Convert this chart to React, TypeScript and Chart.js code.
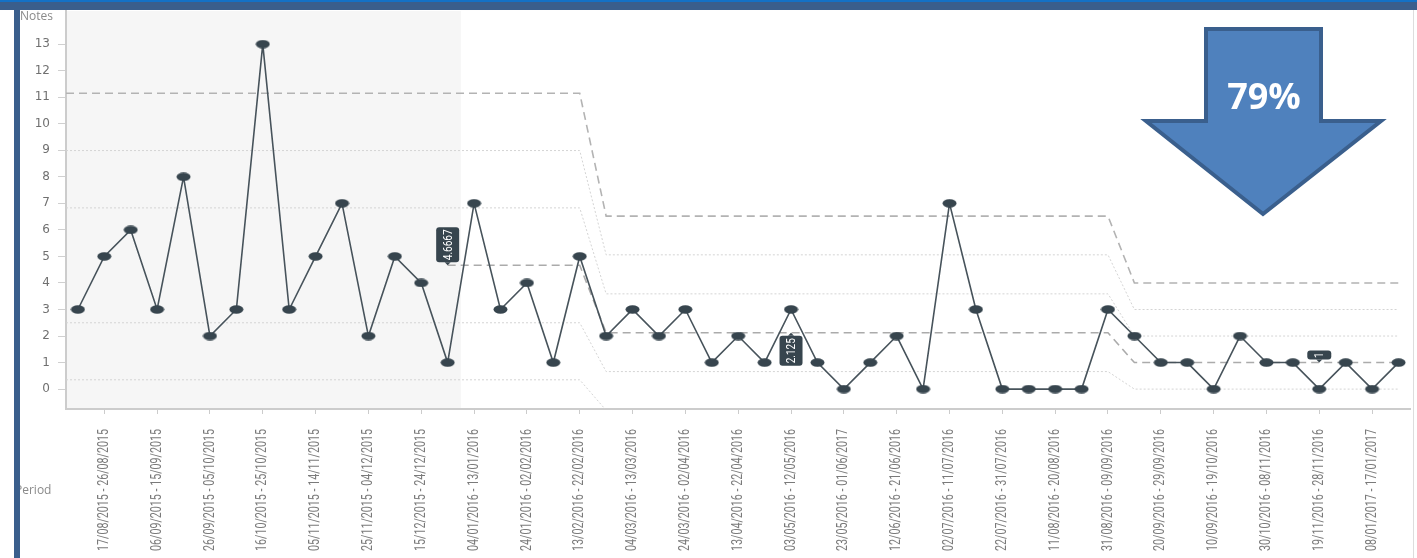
import React, { useEffect, useRef } from "react";
import { Chart, registerables } from "chart.js";

Chart.register(...registerables);

// ---------- data ----------
const tickLabels = [
  "17/08/2015 - 26/08/2015",
  "06/09/2015 - 15/09/2015",
  "26/09/2015 - 05/10/2015",
  "16/10/2015 - 25/10/2015",
  "05/11/2015 - 14/11/2015",
  "25/11/2015 - 04/12/2015",
  "15/12/2015 - 24/12/2015",
  "04/01/2016 - 13/01/2016",
  "24/01/2016 - 02/02/2016",
  "13/02/2016 - 22/02/2016",
  "04/03/2016 - 13/03/2016",
  "24/03/2016 - 02/04/2016",
  "13/04/2016 - 22/04/2016",
  "03/05/2016 - 12/05/2016",
  "23/05/2016 - 01/06/2017",
  "12/06/2016 - 21/06/2016",
  "02/07/2016 - 11/07/2016",
  "22/07/2016 - 31/07/2016",
  "11/08/2016 - 20/08/2016",
  "31/08/2016 - 09/09/2016",
  "20/09/2016 - 29/09/2016",
  "10/09/2016 - 19/10/2016",
  "30/10/2016 - 08/11/2016",
  "19/11/2016 - 28/11/2016",
  "08/01/2017 - 17/01/2017",
];

const notes = [
  3, 5, 6, 3, 8, 2, 3, 13, 3, 5, 7, 2, 5, 4, 1, 7, 3, 4, 1, 5,
  2, 3, 2, 3, 1, 2, 1, 3, 1, 0, 1, 2, 0, 7, 3, 0, 0, 0, 0, 3,
  2, 1, 1, 0, 2, 1, 1, 0, 1, 0, 1,
];

// phases of the control chart
const X_MIN = -0.45;
const X_MAX = 50.45;
const phaseStart = [X_MIN, 20, 40];
const phaseEnd = [19, 39, 50];
const meanStart = [14, 20, 40];
const phaseMean = [4.6667, 2.125, 1];
const phaseUCL = [11.15, 6.52, 4.0];
const phasePlus2 = [8.99, 5.06, 3.0];
const phasePlus1 = [6.83, 3.59, 2.0];
const phaseMinus1 = [2.5, 0.66, 0.0];
const phaseMinus2 = [0.35, -0.8, -1.0];
const baselineEnd = 14.5;

const callouts = [
  { x: 14, phase: 0, text: "4.6667", above: true, w: 23, h: 35 },
  { x: 27, phase: 1, text: "2.125", above: false, w: 23, h: 30 },
  { x: 47, phase: 2, text: "1", above: true, w: 24, h: 9 },
];

const arrowText = "79%";

// ---------- helpers ----------
function limitLine(values: number[], starts: number[]) {
  const pts: { x: number; y: number }[] = [];
  values.forEach((v, k) => {
    pts.push({ x: starts[k], y: v });
    pts.push({ x: phaseEnd[k], y: v });
  });
  return pts;
}

function makeDot() {
  const c = document.createElement("canvas");
  c.width = 15;
  c.height = 9;
  const g = c.getContext("2d")!;
  g.fillStyle = "#37454e";
  g.beginPath();
  g.ellipse(7.5, 4.5, 7, 4.2, 0, 0, Math.PI * 2);
  g.fill();
  return c;
}

const FONT = "'Open Sans', 'DejaVu Sans', sans-serif";
const STRETCH = 1.35;

const decorPlugin = {
  id: "decor",
  beforeDraw(chart: any) {
    const { ctx, chartArea, scales } = chart;
    ctx.save();
    ctx.fillStyle = "#ffffff";
    ctx.fillRect(0, 0, chart.width, chart.height);
    const xs = scales.x.getPixelForValue(baselineEnd);
    ctx.fillStyle = "#f6f6f6";
    ctx.fillRect(chartArea.left, chartArea.top, xs - chartArea.left, chartArea.bottom - chartArea.top);
    ctx.restore();
  },
  afterDraw(chart: any) {
    const { ctx, scales, chartArea } = chart;
    const W = chart.width;
    const H = chart.height;
    ctx.save();

    // x tick labels (rotated, glyphs widened like the reference)
    ctx.fillStyle = "#7a7a7a";
    ctx.font = `10.7px Roboto, ${FONT}`;
    ctx.textAlign = "right";
    ctx.textBaseline = "middle";
    scales.x.ticks.forEach((t: any) => {
      const label = tickLabels[(t.value - 1) / 2];
      if (!label) return;
      const px = scales.x.getPixelForValue(t.value);
      ctx.save();
      ctx.translate(px, chartArea.bottom + 20);
      ctx.rotate(-Math.PI / 2);
      ctx.scale(1, STRETCH);
      ctx.fillText(label, 0, 0);
      ctx.restore();
    });

    // axis titles
    ctx.fillStyle = "#8a8a8a";
    ctx.font = `12px ${FONT}`;
    ctx.textAlign = "left";
    ctx.textBaseline = "middle";
    ctx.fillText("Notes", 20, 17);
    ctx.fillText("Period", 15, 491);

    // callouts
    callouts.forEach((c) => {
      const cx = scales.x.getPixelForValue(c.x);
      const ly = scales.y.getPixelForValue(phaseMean[c.phase]);
      const gap = 3;
      const top = c.above ? ly - gap - c.h : ly + gap;
      const left = cx - c.w / 2;
      ctx.fillStyle = "#37454e";
      ctx.beginPath();
      (ctx as any).roundRect(left, top, c.w, c.h, 3);
      ctx.fill();
      ctx.beginPath();
      if (c.above) {
        ctx.moveTo(cx - 3, top + c.h);
        ctx.lineTo(cx + 3, top + c.h);
        ctx.lineTo(cx, top + c.h + 3);
      } else {
        ctx.moveTo(cx - 3, top);
        ctx.lineTo(cx + 3, top);
        ctx.lineTo(cx, top - 3);
      }
      ctx.fill();
      ctx.save();
      ctx.translate(cx, top + c.h / 2);
      ctx.rotate(-Math.PI / 2);
      ctx.scale(1, STRETCH);
      ctx.fillStyle = "#ffffff";
      ctx.font = `10px Roboto, ${FONT}`;
      ctx.textAlign = "center";
      ctx.textBaseline = "middle";
      ctx.fillText(c.text, 0, 0.5);
      ctx.restore();
    });

    // big arrow
    ctx.beginPath();
    ctx.moveTo(1206, 29);
    ctx.lineTo(1321, 29);
    ctx.lineTo(1321, 121);
    ctx.lineTo(1381, 121);
    ctx.lineTo(1263, 214);
    ctx.lineTo(1146, 121);
    ctx.lineTo(1206, 121);
    ctx.closePath();
    ctx.fillStyle = "#4f81bd";
    ctx.fill();
    ctx.lineWidth = 4;
    ctx.lineJoin = "miter";
    ctx.strokeStyle = "#3a5f8d";
    ctx.stroke();
    ctx.fillStyle = "#ffffff";
    ctx.font = `bold 36px ${FONT}`;
    ctx.textAlign = "center";
    ctx.textBaseline = "middle";
    ctx.fillText(arrowText, 1264, 99);

    // frame
    ctx.fillStyle = "#3a5e8c";
    ctx.fillRect(0, 0, W, 10);
    ctx.fillStyle = "#1471c6";
    ctx.fillRect(0, 0, W, 2);
    ctx.fillStyle = "#3a5e8c";
    ctx.fillRect(14, 10, 6, H - 10);
    ctx.fillStyle = "#dddddd";
    ctx.fillRect(1413, 10, 1, H - 10);
    ctx.restore();
  },
};

export default function App() {
  const ref = useRef<HTMLCanvasElement | null>(null);

  useEffect(() => {
    document.body.style.margin = "0";
    const canvas = ref.current!;
    const dot = makeDot();
    const thin = (values: number[]) => ({
      data: limitLine(values, phaseStart),
      borderColor: "#d4d4d4",
      borderWidth: 1,
      borderDash: [2, 2],
      pointRadius: 0,
      fill: false,
      tension: 0,
    });
    const chart = new Chart(canvas, {
      type: "line",
      data: {
        datasets: [
          {
            data: notes.map((v, i) => ({ x: i, y: v })),
            borderColor: "#47535b",
            borderWidth: 1.6,
            pointStyle: dot as any,
            pointRadius: 5,
            tension: 0,
            fill: false,
          },
          {
            data: limitLine(phaseMean, meanStart),
            borderColor: "#ababab",
            borderWidth: 1.6,
            borderDash: [8, 5],
            pointRadius: 0,
            fill: false,
            tension: 0,
          },
          {
            data: limitLine(phaseUCL, phaseStart),
            borderColor: "#b3b3b3",
            borderWidth: 1.6,
            borderDash: [8, 5],
            pointRadius: 0,
            fill: false,
            tension: 0,
          },
          thin(phasePlus2),
          thin(phasePlus1),
          thin(phaseMinus1),
          thin(phaseMinus2),
        ] as any,
      },
      options: {
        responsive: false,
        animation: false,
        layout: { padding: { top: 11, left: 0, right: 0, bottom: 0 } },
        plugins: { legend: { display: false }, tooltip: { enabled: false } },
        events: [],
        scales: {
          x: {
            type: "linear",
            min: X_MIN,
            max: X_MAX,
            afterBuildTicks: (scale: any) => {
              scale.ticks = tickLabels.map((_, i) => ({ value: 2 * i + 1 }));
            },
            afterFit: (scale: any) => {
              scale.height = 149;
              scale.paddingLeft = 0;
              scale.paddingRight = 0;
            },
            ticks: {
              display: false,
              autoSkip: false,
            },
            grid: {
              display: true,
              drawOnChartArea: false,
              drawTicks: true,
              tickLength: 5,
              color: "#cccccc",
            },
            border: { display: true, color: "#cccccc", width: 2 },
          },
          y: {
            type: "linear",
            min: -0.75,
            max: 14.25,
            afterBuildTicks: (scale: any) => {
              const t = [];
              for (let v = 0; v <= 13; v++) t.push({ value: v });
              scale.ticks = t;
            },
            afterFit: (scale: any) => {
              scale.width = 66;
              scale.paddingTop = 0;
              scale.paddingBottom = 0;
            },
            ticks: {
              padding: 8,
              color: "#707070",
              font: { family: "'DejaVu Sans', sans-serif", size: 12 },
            },
            grid: {
              display: true,
              drawOnChartArea: false,
              drawTicks: true,
              tickLength: 8,
              tickColor: "#d0d0d0",
            },
            border: { display: true, color: "#cccccc", width: 2 },
          },
        },
      } as any,
      plugins: [decorPlugin as any],
    });
    return () => chart.destroy();
  }, []);

  return (
    <div style={{ width: 1417, height: 558, position: "relative" }}>
      <canvas ref={ref} width={1417} height={558} style={{ display: "block" }} />
    </div>
  );
}
